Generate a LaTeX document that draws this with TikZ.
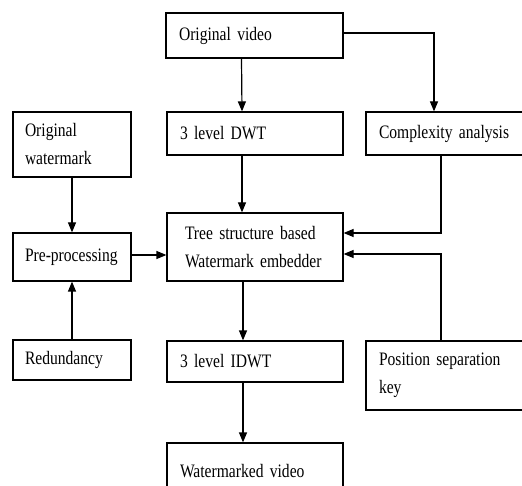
\documentclass[tikz,border=0pt]{standalone}
\usepackage{fontspec}
\setmainfont{Liberation Serif}[FakeStretch=0.82]
\usetikzlibrary{arrows.meta}
\usetikzlibrary{calc}
\newcommand\boxfont{\fontsize{19}{28}\selectfont\spaceskip=3pt plus 1pt minus 1pt\relax}

\begin{document}
\begin{tikzpicture}[x=1pt, y=-1pt,
	block/.style={draw, line width=1.2pt, align=left, inner xsep=13pt, inner ysep=0pt, font=\boxfont},
	flow/.style={line width=1.2pt, -{Triangle[width=8pt,length=10pt]}}]
	\useasboundingbox (0,0) rectangle (522,486);
				% middle column
	\node[block, text width=151pt, minimum height=45pt] (video) at (254.5,35.5) {Original video};
	\node[block, text width=150pt, minimum height=43pt] (dwt) at (255,133.5) {3 level DWT};
	\node[block, inner xsep=18pt, text width=140pt, minimum height=68pt] (embed) at (255,247) {Tree structure based\\Watermark embedder};
	\node[block, text width=150pt, minimum height=41pt] (idwt) at (255,361.5) {3 level IDWT};
	\node[block, text width=150pt, minimum height=57pt] (marked) at (255,471.5) {Watermarked video};
				% left column
	\node[block, inner xsep=12pt, text width=94pt, minimum height=65pt] (wmark) at (72,144.5) {Original\\watermark};
	\node[block, inner xsep=12pt, text width=94pt, minimum height=48pt] (prep) at (72,257) {Pre-processing};
	\node[block, inner xsep=12pt, text width=94pt, minimum height=40pt] (redund) at (72,360) {Redundancy};
				% right column
	\node[block, text width=138pt, minimum height=43pt] (cplx) at (448,133.5) {Complexity analysis};
	\node[block, text width=138pt, minimum height=69pt] (key) at (448,375.5) {Position separation\\key};
				% arrows
	\draw[flow] ([xshift=-13pt]video.south) -- ([xshift=-13pt]dwt.north);
	\draw[flow] ([yshift=2.5pt]video.east) -| ([xshift=-14pt]cplx.north);
	\draw[flow] ([xshift=-13pt]dwt.south) -- ([xshift=-13pt]embed.north);
	\draw[flow] ([xshift=-7pt]cplx.south) |- ([yshift=14pt]embed.east);
	\draw[flow] ([xshift=-7pt]key.north) |- ([yshift=-7pt]embed.east);
	\draw[flow] (wmark.south) -- (prep.north);
	\draw[flow] (redund.north) -- (prep.south);
	\draw[flow] ([yshift=2pt]prep.east) -- ([yshift=2pt]prep.east -| embed.west);
	\draw[flow] ([xshift=-12pt]embed.south) -- ([xshift=-12pt]idwt.north);
	\draw[flow] ([xshift=-12pt]idwt.south) -- ([xshift=-12pt]marked.north);
\end{tikzpicture}
\end{document}
